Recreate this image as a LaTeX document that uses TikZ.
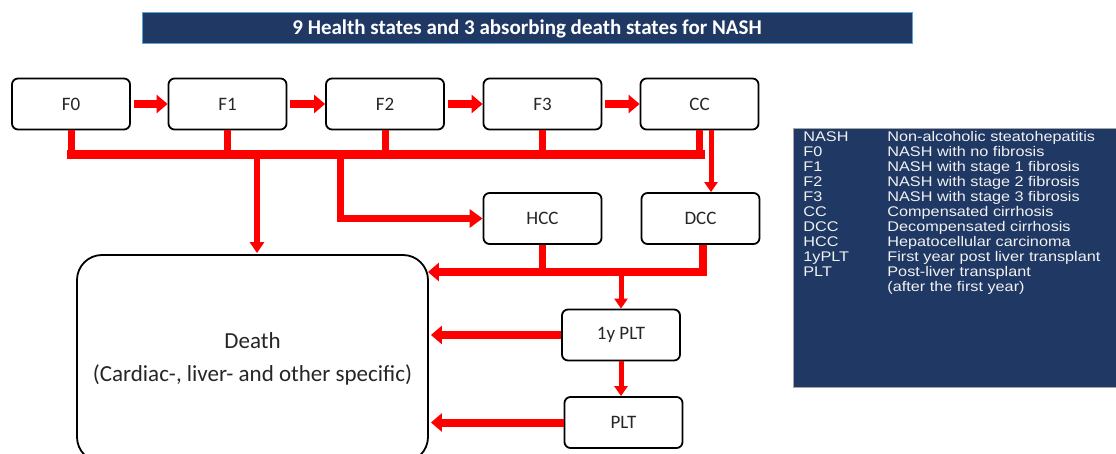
\documentclass[tikz,border=0pt]{standalone}
\usepackage{fontspec}
\setmainfont{Carlito}
\newfontfamily\legendfont[FakeStretch=1.16]{Liberation Sans}
\usepackage{tikz}
\usetikzlibrary{positioning, arrows.meta, calc}
\usepackage{xcolor}
\definecolor{navyBg}{HTML}{1F3864}
\definecolor{edgeBlue}{HTML}{5BA3D0}
\definecolor{edgeGray}{HTML}{A6A6A6}
\definecolor{flowRed}{HTML}{FF0000}
\definecolor{boxText}{HTML}{262626}
\definecolor{legendText}{HTML}{F2F2F2}

\begin{document}
\begin{tikzpicture}[x=1pt, y=-1pt,
    stateBox/.style={draw=black, line width=1.8pt, rounded corners=6pt, fill=white, minimum width=118pt, minimum height=51pt, text=boxText, font=\fontsize{19}{22}\selectfont},
    bigArrow/.style={draw=flowRed, line width=8pt, -{Triangle[length=11pt, width=18pt]}},
    smallArrow/.style={draw=flowRed, line width=5pt, -{Triangle[length=10pt, width=13pt]}},
    busLine/.style={draw=flowRed, line width=7pt},
    busBar/.style={draw=flowRed, line width=9pt}]
    \useasboundingbox (0,0) rectangle (1116,454);
    % title
    \node[fill=navyBg, draw=edgeBlue, line width=1pt, minimum width=770pt, minimum height=31pt, text=white, font=\fontsize{21}{24}\selectfont\bfseries] (title) at (527,28.5) {9 Health states and 3 absorbing death states for NASH};
    % health states
    \node[stateBox] (f0) at (71,104) {F0};
    \node[stateBox] (f1) at (227.5,104) {F1};
    \node[stateBox] (f2) at (385,104) {F2};
    \node[stateBox] (f3) at (542.5,104) {F3};
    \node[stateBox] (cc) at (699.5,104) {CC};
    \node[stateBox] (hcc) at (542.5,218.5) {HCC};
    \node[stateBox] (dcc) at (700.5,218.5) {DCC};
    \node[stateBox] (plt1) at (621,335) {1y PLT};
    \node[stateBox] (plt) at (623.5,422.5) {PLT};
    \node[draw=black, line width=1.8pt, rounded corners=25pt, fill=white, minimum width=351pt, minimum height=207pt, align=center, text=boxText, font=\fontsize{23}{33}\selectfont] (death) at (252.5,358.5) {Death\\(Cardiac-, liver- and other specific)};
    % legend
    \node[fill=navyBg, draw=edgeGray, line width=0.8pt, anchor=north west, inner sep=0pt, text=legendText] (legend) at (793,128) {%
      \begin{minipage}[t][259pt][t]{330pt}
        \legendfont\fontsize{14}{15}\selectfont
        \vspace{3pt}\hspace{10pt}%
        \begin{tabular}[t]{@{}p{84pt}@{}l@{}}
          NASH & Non-alcoholic steatohepatitis\\
          F0 & NASH with no fibrosis\\
          F1 & NASH with stage 1 fibrosis\\
          F2 & NASH with stage 2 fibrosis\\
          F3 & NASH with stage 3 fibrosis\\
          CC & Compensated cirrhosis\\
          DCC & Decompensated cirrhosis\\
          HCC & Hepatocellular carcinoma\\
          1yPLT & First year post liver transplant\\
          PLT & Post-liver transplant\\
              & (after the first year)
        \end{tabular}
      \end{minipage}};
    % progression along the top row
    \draw[bigArrow] ([xshift=3pt]f0.east) -- (f1.west);
    \draw[bigArrow] ([xshift=3pt]f1.east) -- (f2.west);
    \draw[bigArrow] ([xshift=3pt]f2.east) -- (f3.west);
    \draw[bigArrow] ([xshift=3pt]f3.east) -- (cc.west);
    % bus to death
    \coordinate (busY) at (0,155);
    \foreach \s in {f0,f1,f2,f3,cc}
      \draw[busLine] (\s.south) -- (\s.south |- busY);
    \draw[busBar] ([xshift=-4pt]f0.south |- busY) -- ([xshift=5pt]cc.south |- busY);
    \draw[draw=flowRed, line width=6pt, -{Triangle[length=11pt, width=14pt]}] ($(death.north |- busY)+(4.5,0)$) -- ($(death.north)+(4.5,-1)$);
    \coordinate (hccFork) at (340,155);
    \draw[draw=flowRed, line width=7pt, -{Triangle[length=13pt, width=18pt]}] (hccFork) |- (hcc.west);
    \draw[smallArrow] ([xshift=11.5pt]cc.south) -- ([xshift=11.5pt]cc.south |- dcc.north);
    % lower bus
    \coordinate (lowY) at (0,272);
    \draw[busLine] (hcc.south) -- (hcc.south |- lowY);
    \draw[bigArrow] ([xshift=2pt]dcc.south) |- ($(death.east |- lowY)+(-1,0)$);
    \draw[smallArrow] (plt1.north |- lowY) -- (plt1.north);
    \draw[bigArrow] (plt1.west) -- ($(plt1.west -| death.east)+(2,0)$);
    \draw[smallArrow] (plt1.south) -- (plt1.south |- plt.north);
    \draw[bigArrow] (plt.west) -- ($(plt.west -| death.east)+(2,0)$);
\end{tikzpicture}
\end{document}
